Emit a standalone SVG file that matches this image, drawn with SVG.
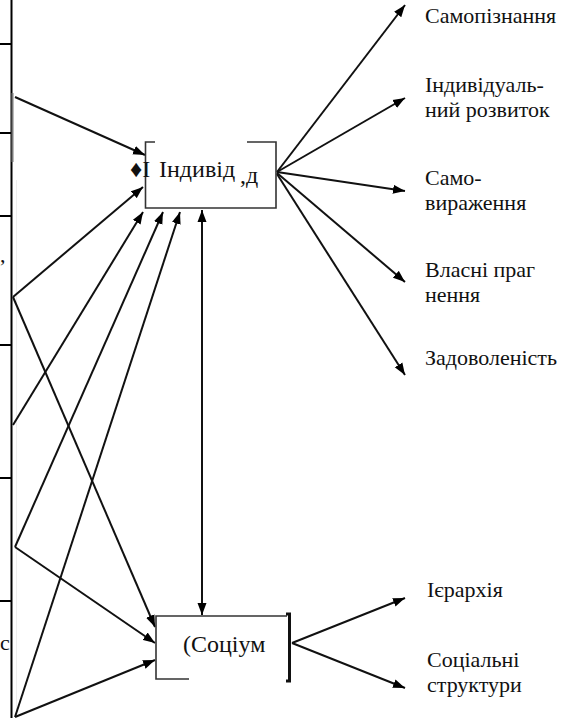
<svg xmlns="http://www.w3.org/2000/svg" width="571" height="718" viewBox="0 0 571 718">
<style>
.ln{stroke:#111;stroke-width:2;fill:none}
.bx{stroke:#333;stroke-width:1.6;fill:none}
.tb{stroke:#000;stroke-width:2;fill:none}
.lbl{font-family:"Liberation Serif","Times New Roman",serif;font-size:22px;fill:#111}
.nd{font-family:"Liberation Serif","Times New Roman",serif;font-size:24px;fill:#111}
</style>
<defs>
<marker id="ah" markerUnits="userSpaceOnUse" markerWidth="13" markerHeight="10" refX="12" refY="5" orient="auto-start-reverse">
<path d="M0,0.5 L12,5 L0,9.5 z" fill="#000"/>
</marker>
</defs>
<rect width="571" height="718" fill="#fff"/>
<g id="table">
<path class="tb" d="M11.5,0 V718 M0,44 H11 M0,133 H11 M0,216 H11 M0,345 H11 M0,478 H11 M0,601 H11"/>
<path d="M12.5,93 V162" stroke="#777" stroke-width="2"/>
<path d="M16.5,180 V718" stroke="#eee" stroke-width="1"/>
<text x="0" y="262" class="lbl" font-size="18">,</text>
<text x="0" y="650" class="lbl" font-size="15" fill="#666">с</text>
</g>
<g id="connectors">
<path class="ln" marker-end="url(#ah)" d="M277,172 L405,5"/>
<path class="ln" marker-end="url(#ah)" d="M277,172 L405,98"/>
<path class="ln" marker-end="url(#ah)" d="M277,172 L405,191"/>
<path class="ln" marker-end="url(#ah)" d="M277,173 L405,282"/>
<path class="ln" marker-end="url(#ah)" d="M277,174 L405,375"/>
<path class="ln" marker-end="url(#ah)" d="M292,643 L405,598"/>
<path class="ln" marker-end="url(#ah)" d="M292,643 L405,688"/>
<path class="ln" marker-end="url(#ah)" d="M15,97 L145,155"/>
<path class="ln" marker-end="url(#ah)" d="M13,297 L143,187"/>
<path class="ln" marker-end="url(#ah)" d="M13,297 L155,627"/>
<path class="ln" marker-end="url(#ah)" d="M13,425 L143,212"/>
<path class="ln" marker-end="url(#ah)" d="M15,547 L163,212"/>
<path class="ln" marker-end="url(#ah)" d="M15,547 L155,643"/>
<path class="ln" marker-end="url(#ah)" d="M15,717 L180,212"/>
<path class="ln" marker-end="url(#ah)" d="M15,717 L155,660"/>
<path class="ln" marker-start="url(#ah)" marker-end="url(#ah)" d="M202,210 L202,615"/>
</g>
<g id="individ">
<path class="bx" d="M155,142 H145.5 V208 H276 V142 H247"/>
<text x="130" y="177" class="nd">♦I</text>
<text x="159" y="177" class="nd">Індивід</text>
<text x="240" y="183" class="nd" font-size="16" fill="#555">,д</text>
</g>
<g id="socium">
<path class="bx" d="M189,679 H156 V616 H287"/>
<path d="M286,614 H289.5 V681 H286" stroke="#111" stroke-width="3" fill="none"/>
<text x="183" y="652" class="nd" fill="#777">(</text>
<text x="191" y="652" class="nd">Соціум</text>
</g>
<g id="labels">
<text x="425" y="23" class="lbl">Самопізнання</text>
<text x="425" y="92" class="lbl">Індивідуаль-</text>
<text x="425" y="117" class="lbl">ний розвиток</text>
<text x="425" y="185" class="lbl">Само-</text>
<text x="425" y="210" class="lbl">вираження</text>
<text x="425" y="277" class="lbl">Власні праг</text>
<text x="425" y="302" class="lbl">нення</text>
<text x="425" y="365" class="lbl">Задоволеність</text>
<text x="427" y="597" class="lbl">Ієрархія</text>
<text x="427" y="667" class="lbl">Соціальні</text>
<text x="427" y="692" class="lbl">структури</text>
</g>
</svg>
